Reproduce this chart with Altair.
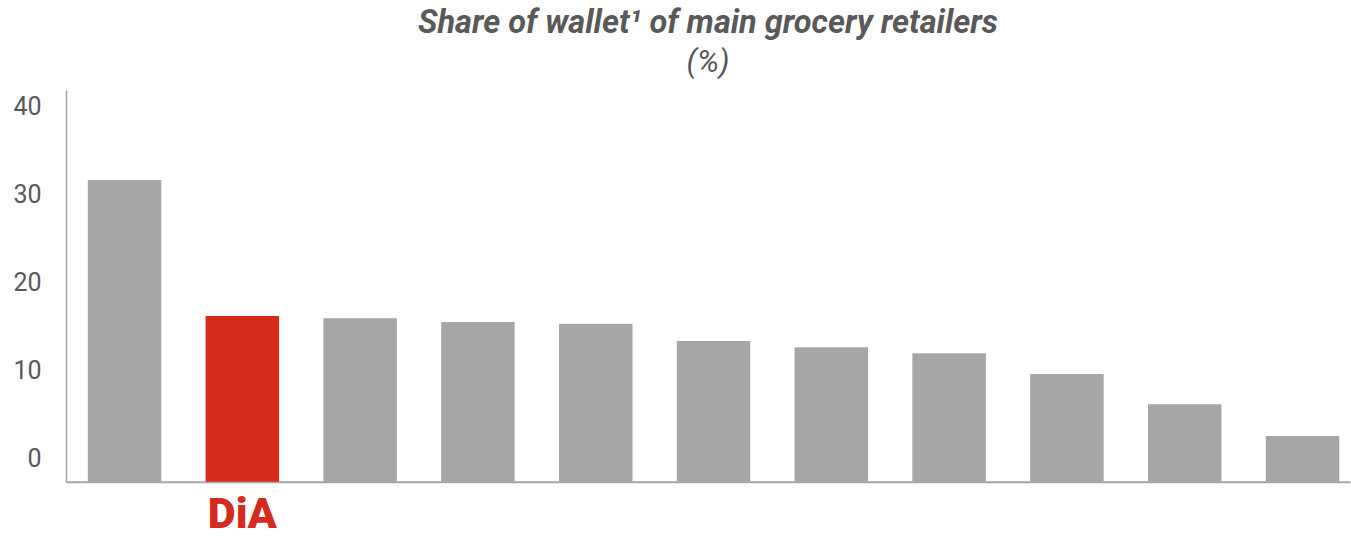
import altair as alt
import pandas as pd

# Data
retailers = ["Retailer 1", "DiA", "Retailer 3", "Retailer 4", "Retailer 5", "Retailer 6",
             "Retailer 7", "Retailer 8", "Retailer 9", "Retailer 10", "Retailer 11"]
share = [31.65, 16.2, 15.95, 15.5, 15.3, 13.35, 12.65, 11.95, 9.6, 6.15, 2.55]
highlight = ["other", "dia", "other", "other", "other", "other",
             "other", "other", "other", "other", "other"]
y_ticks = [0, 10, 20, 30, 40]
title_text = "Share of wallet\u00b9 of main grocery retailers"
subtitle_text = "(%)"

Y_MIN = -2.64
Y_MAX = 41.88

df = pd.DataFrame({"retailer": retailers, "share": share, "group": highlight})

GRAY = "#a6a6a6"
RED = "#d52b1e"
TEXT = "#595959"

bars = alt.Chart(df).mark_bar().encode(
    x=alt.X(
        "retailer:N",
        sort=retailers,
        scale=alt.Scale(paddingInner=0.376, paddingOuter=0.138, align=0.67),
        axis=alt.Axis(
            title=None,
            labelExpr="datum.value == 'DiA' ? 'DiA' : ''",
            labelAngle=0,
            labelFont="Roboto",
            labelFontSize=43,
            labelFontWeight=900,
            labelColor=RED,
            labelPadding=12,
            ticks=False,
            tickSize=0,
            domainColor=GRAY,
            domainWidth=2,
            grid=False,
        ),
    ),
    y=alt.Y(
        "share:Q",
        scale=alt.Scale(domain=[Y_MIN, Y_MAX], nice=False, zero=False),
        axis=alt.Axis(
            title=None,
            values=y_ticks,
            labelFont="Roboto",
            labelFontSize=25,
            labelColor=TEXT,
            labelPadding=25,
            ticks=False,
            tickSize=0,
            domainColor=GRAY,
            domainWidth=1.5,
            grid=False,
        ),
    ),
    y2=alt.datum(Y_MIN),
    color=alt.Color(
        "group:N",
        scale=alt.Scale(domain=["other", "dia"], range=[GRAY, RED]),
        legend=None,
    ),
)

chart = bars.properties(
    width=1284,
    height=391.7,
    background="white",
    title=alt.TitleParams(
        text=title_text,
        subtitle=subtitle_text,
        font="Roboto",
        fontSize=32.5,
        fontWeight="bold",
        fontStyle="italic",
        color=TEXT,
        subtitleFont="Roboto",
        subtitleFontSize=31,
        subtitleFontStyle="italic",
        subtitleFontWeight="normal",
        subtitleColor=TEXT,
        subtitlePadding=9,
        anchor="middle",
        offset=12,
    ),
    autosize=alt.AutoSizeParams(type="none"),
    padding={"left": 66, "top": 90, "right": 1, "bottom": 55.3},
).configure_view(strokeWidth=0)

chart.save("out.html", embed_options={"renderer": "svg", "actions": False})
